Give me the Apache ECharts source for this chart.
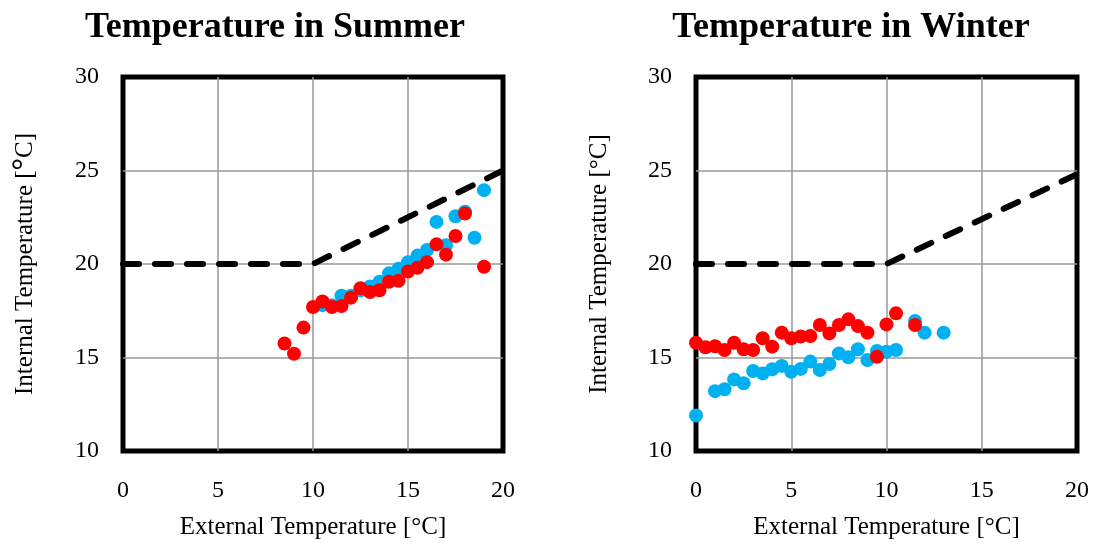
<!DOCTYPE html>
<html>
<head>
<meta charset="utf-8">
<script src="https://cdn.jsdelivr.net/npm/echarts@6/dist/echarts.min.js"></script>
<style>html,body{margin:0;padding:0;background:#fff}#c{width:1093px;height:547px}</style>
</head>
<body>
<div id="c"></div>
<script>
// ---- data ----
const xTicks = [0, 5, 10, 15, 20];
const yTicks = [10, 15, 20, 25, 30];

const summerBlueX = [10.5, 11, 11.5, 12, 12.5, 13, 13.5, 14, 14.5, 15, 15.5, 16, 16.5, 17, 17.5, 18, 18.5, 19];
const summerBlueY = [17.8, 17.8, 18.3, 18.3, 18.6, 18.8, 19.05, 19.5, 19.75, 20.1, 20.45, 20.75, 22.25, 21.0, 22.55, 22.8, 21.4, 23.95];
const summerRedX = [8.5, 9, 9.5, 10, 10.5, 11, 11.5, 12, 12.5, 13, 13.5, 14, 14.5, 15, 15.5, 16, 16.5, 17, 17.5, 18, 19];
const summerRedY = [15.75, 15.2, 16.6, 17.7, 18.0, 17.7, 17.75, 18.2, 18.7, 18.5, 18.6, 19.05, 19.1, 19.6, 19.8, 20.1, 21.05, 20.5, 21.5, 22.7, 19.85];
const summerRefX = [0, 10, 20];
const summerRefY = [20, 20, 25];

const winterBlueX = [0, 1, 1.5, 2, 2.5, 3, 3.5, 4, 4.5, 5, 5.5, 6, 6.5, 7, 7.5, 8, 8.5, 9, 9.5, 10, 10.5, 11.5, 12, 13];
const winterBlueY = [11.9, 13.2, 13.3, 13.83, 13.62, 14.28, 14.15, 14.37, 14.55, 14.24, 14.39, 14.78, 14.33, 14.65, 15.22, 15.01, 15.44, 14.87, 15.35, 15.31, 15.4, 16.95, 16.33, 16.33];
const winterRedX = [0, 0.5, 1, 1.5, 2, 2.5, 3, 3.5, 4, 4.5, 5, 5.5, 6, 6.5, 7, 7.5, 8, 8.5, 9, 9.5, 10, 10.5, 11.5];
const winterRedY = [15.79, 15.55, 15.6, 15.4, 15.79, 15.44, 15.4, 16.03, 15.58, 16.33, 16.03, 16.12, 16.15, 16.74, 16.29, 16.74, 17.04, 16.68, 16.33, 15.04, 16.77, 17.36, 16.74];
const winterRefX = [0, 10, 20];
const winterRefY = [20, 20, 24.8];

const titles = ['Temperature in Summer', 'Temperature in Winter'];
const xName = 'External Temperature [°C]';

// ---- chart ----
const zip = (xs, ys) => xs.map((x, i) => [x, ys[i]]);
const FONT = '"Liberation Serif", "DejaVu Serif", serif';
const BLUE = '#00B0F0', RED = '#FF0000';

function xAxis(gi) {
  return {
    gridIndex: gi, type: 'value', min: xTicks[0], max: xTicks[xTicks.length - 1], interval: 5,
    name: xName, nameLocation: 'middle', nameGap: 64,
    nameTextStyle: { fontFamily: FONT, fontSize: 25, color: '#000' },
    axisLine: { show: false }, axisTick: { show: false },
    axisLabel: { fontFamily: FONT, fontSize: 24, color: '#000', margin: 28 },
    splitLine: { show: true, showMinLine: false, showMaxLine: false, lineStyle: { color: '#999', width: 1.5 } }
  };
}
function yAxis(gi, name, gap, rich) {
  return {
    gridIndex: gi, type: 'value', min: yTicks[0], max: yTicks[yTicks.length - 1], interval: 5,
    name: name, nameLocation: 'middle', nameGap: gap,
    nameTextStyle: { fontFamily: FONT, fontSize: 25, color: '#000', rich: rich },
    axisLine: { show: false }, axisTick: { show: false },
    axisLabel: { fontFamily: FONT, fontSize: 24, color: '#000', margin: 24 },
    splitLine: { show: true, showMinLine: false, showMaxLine: false, lineStyle: { color: '#999', width: 1.5 } }
  };
}
function scatter(gi, data, color) {
  return {
    type: 'scatter', xAxisIndex: gi, yAxisIndex: gi, data: data,
    symbolSize: 14, itemStyle: { color: color, opacity: 1 }, z: 3, silent: true
  };
}
function refLine(gi, data) {
  return {
    type: 'line', xAxisIndex: gi, yAxisIndex: gi, data: data, symbol: 'none',
    lineStyle: { color: '#000', width: 6, type: [16, 16], cap: 'round', join: 'round' },
    z: 2, silent: true, animation: false
  };
}

const chart = echarts.init(document.getElementById('c'), null, { renderer: 'canvas' });
chart.setOption({
  animation: false,
  backgroundColor: '#fff',
  title: [
    { text: titles[0], left: 270, top: 5, textAlign: 'center',
      textStyle: { fontFamily: FONT, fontSize: 36, fontWeight: 'bold', color: '#000' } },
    { text: titles[1], left: 846, top: 5, textAlign: 'center',
      textStyle: { fontFamily: FONT, fontSize: 36, fontWeight: 'bold', color: '#000' } }
  ],
  grid: [
    { left: 123, right: 590, top: 77, bottom: 96, show: true, borderColor: '#000', borderWidth: 5, backgroundColor: 'transparent' },
    { left: 696, right: 16, top: 77, bottom: 96, show: true, borderColor: '#000', borderWidth: 5, backgroundColor: 'transparent' }
  ],
  xAxis: [xAxis(0), xAxis(1)],
  yAxis: [
    yAxis(0, 'Internal Temperature [{d|°}C]', 82, { d: { fontFamily: FONT, fontSize: 31, fontWeight: 'bold', color: '#000' } }),
    yAxis(1, 'Internal Temperature [°C]', 84)
  ],
  series: [
    refLine(0, zip(summerRefX, summerRefY)),
    scatter(0, zip(summerBlueX, summerBlueY), BLUE),
    scatter(0, zip(summerRedX, summerRedY), RED),
    refLine(1, zip(winterRefX, winterRefY)),
    scatter(1, zip(winterBlueX, winterBlueY), BLUE),
    scatter(1, zip(winterRedX, winterRedY), RED)
  ]
});
</script>
</body>
</html>
